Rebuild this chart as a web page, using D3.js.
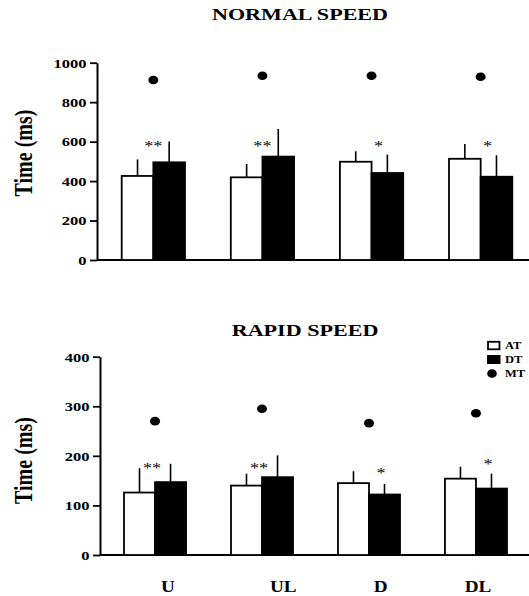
<!DOCTYPE html>
<html>
<head>
<meta charset="utf-8">
<script src="https://cdn.jsdelivr.net/npm/d3@7"></script>
<style>
  html, body { margin: 0; padding: 0; background: #fff; }
  svg { display: block; }
  text { font-family: "Liberation Serif", "Times New Roman", serif; fill: #000; }
</style>
</head>
<body>
<svg id="chart" width="529" height="596"></svg>
<script>
// ---------------- DATA ----------------
const categories = ["U", "UL", "D", "DL"];
const seriesNames = ["AT", "DT", "MT"];

const normalTicks = [0, 200, 400, 600, 800, 1000];
const normalAT    = [426, 419, 498, 513];
const normalATerr = [84, 68, 53, 75];
const normalDT    = [495, 524, 441, 422];
const normalDTerr = [105, 140, 93, 109];
const normalMT    = [912, 934, 934, 929];
const normalStars = ["**", "**", "*", "*"];
const normalStarLevel = [593, 593, 593, 593];

const rapidTicks = [0, 100, 200, 300, 400];
const rapidAT    = [126, 140, 145, 154];
const rapidATerr = [49, 24, 24, 24];
const rapidDT    = [147, 157, 122, 134];
const rapidDTerr = [37, 44, 21, 30];
const rapidMT    = [270, 295, 266, 286];
const rapidStars = ["**", "**", "*", "*"];
const rapidStarLevel = [181, 181, 170, 188];

// ---------------- DRAWING ----------------
const svg = d3.select("#chart");
const SX = 1.3; // horizontal stretch of the original figure's lettering

function stretchedText(g, x, y, str, size, weight, anchor, sx) {
  return g.append("text")
    .attr("transform", `translate(${x},${y}) scale(${sx || SX},1)`)
    .attr("text-anchor", anchor || "middle")
    .attr("font-size", size)
    .attr("font-weight", weight || "bold")
    .text(str);
}

function panel(cfg) {
  const g = svg.append("g");
  const y = d3.scaleLinear().domain([0, cfg.max]).range([cfg.y0, cfg.y1]);
  const xg = d3.scaleBand().domain(categories).range(cfg.xr).paddingInner(0.42).paddingOuter(0);
  const xs = d3.scaleBand().domain(["AT", "DT"]).range([0, xg.bandwidth()]);

  // y axis
  const axis = d3.axisLeft(y).tickValues(cfg.ticks).tickSize(7).tickSizeOuter(0).tickFormat(d3.format("d"));
  const ag = g.append("g").attr("transform", `translate(${cfg.ax},0)`).call(axis);
  ag.select(".domain").attr("stroke", "#000").attr("stroke-width", 2);
  ag.selectAll(".tick line").attr("stroke", "#000").attr("stroke-width", 1.8);
  ag.selectAll(".tick text")
    .attr("x", null).attr("dy", null)
    .attr("transform", d => `translate(-10.5,${4.3}) scale(1.32,1)`)
    .attr("text-anchor", "end")
    .attr("font-family", "Liberation Serif")
    .attr("font-weight", "bold")
    .attr("font-size", 12.5);

  // x baseline
  g.append("line")
    .attr("x1", cfg.ax).attr("x2", 529)
    .attr("y1", y(0)).attr("y2", y(0))
    .attr("stroke", "#000").attr("stroke-width", 2);

  const rows = categories.map((c, i) => ({
    c, at: cfg.at[i], atE: cfg.atE[i], dt: cfg.dt[i], dtE: cfg.dtE[i],
    mt: cfg.mt[i], star: cfg.stars[i], starV: cfg.starV[i]
  }));

  const grp = g.selectAll(".grp").data(rows).join("g")
    .attr("transform", d => `translate(${xg(d.c)},0)`);

  // error bars (behind bars)
  grp.append("line")
    .attr("x1", xs("AT") + xs.bandwidth() / 2).attr("x2", xs("AT") + xs.bandwidth() / 2)
    .attr("y1", d => y(d.at)).attr("y2", d => y(d.at + d.atE))
    .attr("stroke", "#000").attr("stroke-width", 1.6);
  grp.append("line")
    .attr("x1", xs("DT") + xs.bandwidth() / 2).attr("x2", xs("DT") + xs.bandwidth() / 2)
    .attr("y1", d => y(d.dt)).attr("y2", d => y(d.dt + d.dtE))
    .attr("stroke", "#000").attr("stroke-width", 1.6);

  // bars
  grp.append("rect")
    .attr("x", xs("AT")).attr("width", xs.bandwidth())
    .attr("y", d => y(d.at)).attr("height", d => y(0) - y(d.at))
    .attr("fill", "#fff").attr("stroke", "#000").attr("stroke-width", 1.8);
  grp.append("rect")
    .attr("x", xs("DT")).attr("width", xs.bandwidth())
    .attr("y", d => y(d.dt)).attr("height", d => y(0) - y(d.dt))
    .attr("fill", "#000").attr("stroke", "#000").attr("stroke-width", 1.8);

  // MT dots
  grp.append("ellipse")
    .attr("cx", xg.bandwidth() / 2).attr("cy", d => y(d.mt))
    .attr("rx", 5).attr("ry", 4.3).attr("fill", "#000");

  // significance stars
  grp.each(function (d) {
    const dx = d.star.length === 2 ? cfg.dblDx : cfg.sglDx;
    stretchedText(d3.select(this), xg.bandwidth() / 2 + dx, y(d.starV) + 7.5, d.star, 14, "normal", "middle", 1.3);
  });

  // title
  stretchedText(g, cfg.titleX, cfg.titleY, cfg.title, 17, "bold");

  // y label
  g.append("text")
    .attr("transform", `translate(32,${cfg.labY}) scale(1.3,1) rotate(-90)`)
    .attr("text-anchor", "middle")
    .attr("font-size", 20).attr("font-weight", "bold")
    .text("Time (ms)");

  return { g, y, xg };
}

panel({
  max: 1000, ticks: normalTicks, y0: 260, y1: 62.7, ax: 97, xr: [121.7, 512.3],
  at: normalAT, atE: normalATerr, dt: normalDT, dtE: normalDTerr, mt: normalMT,
  stars: normalStars, starV: normalStarLevel, dblDx: 0, sglDx: 7,
  title: "NORMAL SPEED", titleX: 300, titleY: 19.5, labY: 153
});

const bottom = panel({
  max: 400, ticks: rapidTicks, y0: 555, y1: 356.7, ax: 100, xr: [124, 507],
  at: rapidAT, atE: rapidATerr, dt: rapidDT, dtE: rapidDTerr, mt: rapidMT,
  stars: rapidStars, starV: rapidStarLevel, dblDx: -3, sglDx: 12,
  title: "RAPID SPEED", titleX: 305, titleY: 335.5, labY: 460.5
});

// category labels
const labX = d3.scalePoint().domain(categories).range([168, 478]);
const labOffset = [0, 12, 6, 0];
categories.forEach((c, i) => {
  stretchedText(svg, labX(c) + labOffset[i], 592, c, 16, "bold", "middle", 1.2);
});

// legend
const leg = svg.append("g").attr("transform", "translate(487,341)");
const legRows = seriesNames.map((s, i) => ({ s, i }));
legRows.forEach(({ s, i }) => {
  const yy = i * 14;
  if (s === "AT") {
    leg.append("rect").attr("x", 1).attr("y", yy + 0.8).attr("width", 11.5).attr("height", 7.5)
      .attr("fill", "#fff").attr("stroke", "#000").attr("stroke-width", 1.8);
  } else if (s === "DT") {
    leg.append("rect").attr("x", 0).attr("y", yy).attr("width", 13.5).attr("height", 9)
      .attr("fill", "#000");
  } else {
    leg.append("ellipse").attr("cx", 5).attr("cy", yy + 4.5).attr("rx", 4.8).attr("ry", 4.3).attr("fill", "#000");
  }
  stretchedText(leg, 18, yy + 8, s, 10, "bold", "start", 1.25);
});
</script>
</body>
</html>
